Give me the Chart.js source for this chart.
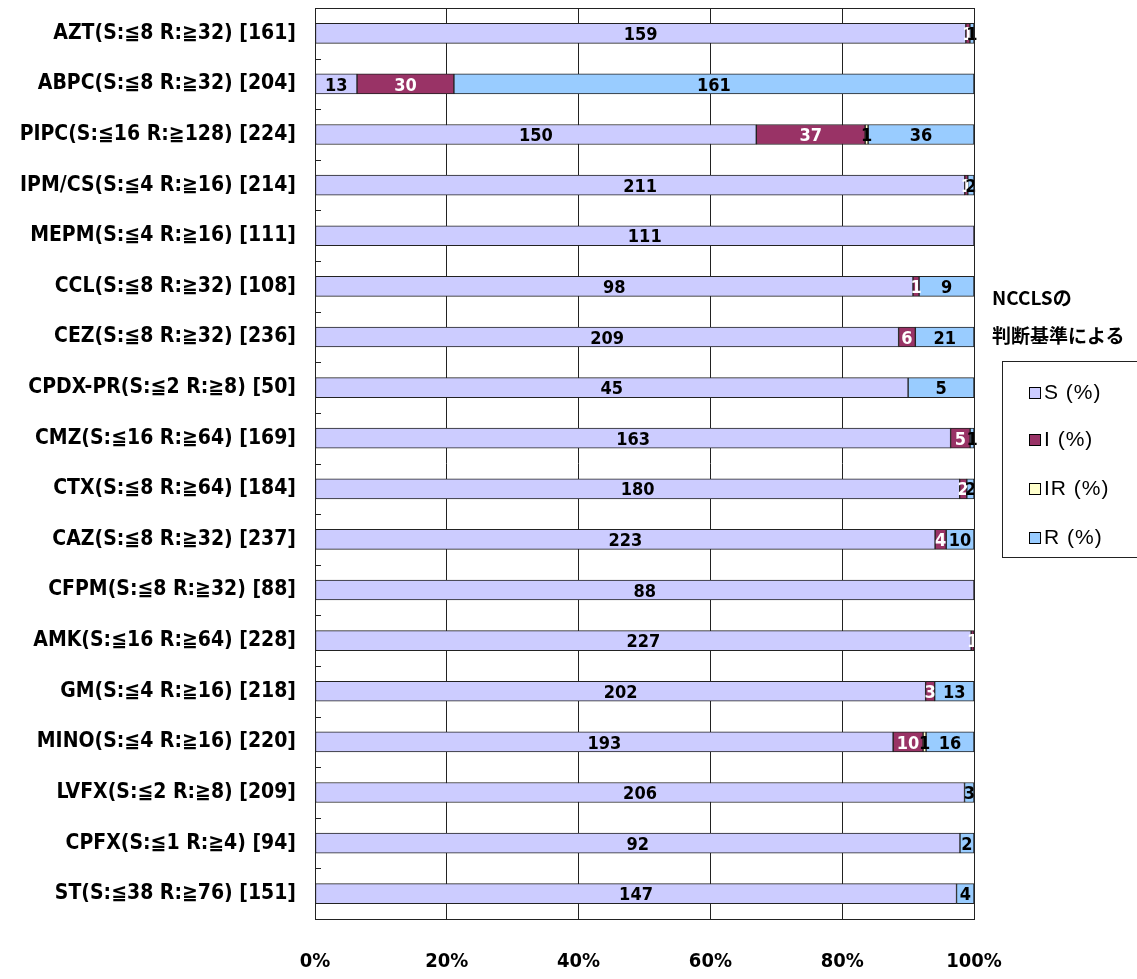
<!DOCTYPE html>
<html>
<head>
<meta charset="utf-8">
<script src="https://cdn.jsdelivr.net/npm/chart.js@4"></script>
<style>
  html, body { margin: 0; padding: 0; background: #fff; overflow: hidden; }
  #wrap { position: relative; width: 1137px; height: 979px; }
  #title { position: absolute; left: 992px; top: 278px; font: bold 19px 'Noto Sans CJK JP', sans-serif; line-height: 38px; color: #000; }
  #legend { position: absolute; left: 1002px; top: 361px; width: 160px; height: 197px; border: 1px solid #222; box-sizing: border-box; font: 21px 'Liberation Sans', Arial, sans-serif; letter-spacing: 1px; color: #000; }
  #legend .item { position: absolute; left: 26px; height: 24px; line-height: 24px; white-space: nowrap; }
  #legend .box { display: inline-block; width: 10px; height: 10px; border: 1px solid #000; margin-right: 3px; vertical-align: 0px; }
</style>
</head>
<body>
<div id="wrap">
  <canvas id="chart" width="1137" height="979"></canvas>
  <div id="title">NCCLSの<br>判断基準による</div>
  <div id="legend"></div>
</div>
<script>
const categories = [
  'AZT(S:≦8 R:≧32) [161]',
  'ABPC(S:≦8 R:≧32) [204]',
  'PIPC(S:≦16 R:≧128) [224]',
  'IPM/CS(S:≦4 R:≧16) [214]',
  'MEPM(S:≦4 R:≧16) [111]',
  'CCL(S:≦8 R:≧32) [108]',
  'CEZ(S:≦8 R:≧32) [236]',
  'CPDX-PR(S:≦2 R:≧8) [50]',
  'CMZ(S:≦16 R:≧64) [169]',
  'CTX(S:≦8 R:≧64) [184]',
  'CAZ(S:≦8 R:≧32) [237]',
  'CFPM(S:≦8 R:≧32) [88]',
  'AMK(S:≦16 R:≧64) [228]',
  'GM(S:≦4 R:≧16) [218]',
  'MINO(S:≦4 R:≧16) [220]',
  'LVFX(S:≦2 R:≧8) [209]',
  'CPFX(S:≦1 R:≧4) [94]',
  'ST(S:≦38 R:≧76) [151]'
];
const totals   = [161, 204, 224, 214, 111, 108, 236, 50, 169, 184, 237, 88, 228, 218, 220, 209, 94, 151];
const sCounts  = [159, 13, 150, 211, 111, 98, 209, 45, 163, 180, 223, 88, 227, 202, 193, 206, 92, 147];
const iCounts  = [1, 30, 37, 1, 0, 1, 6, 0, 5, 2, 4, 0, 1, 3, 10, 0, 0, 0];
const irCounts = [0, 0, 1, 0, 0, 0, 0, 0, 0, 0, 0, 0, 0, 0, 1, 0, 0, 0];
const rCounts  = [1, 161, 36, 2, 0, 9, 21, 5, 1, 2, 10, 0, 0, 13, 16, 3, 2, 4];
const xTicks   = [0, 20, 40, 60, 80, 100];

const seriesNames  = ['S (%)', 'I (%)', 'IR (%)', 'R (%)'];
const seriesColors = ['#CCCCFF', '#993366', '#FFFFCC', '#99CCFF'];
const labelColors  = ['#000', '#fff', '#000', '#000'];
const seriesCounts = [sCounts, iCounts, irCounts, rCounts];

const numFont = "'DejaVu Sans Condensed', 'Liberation Sans Narrow', 'DejaVu Sans', sans-serif";

// 100% stacked: counts -> share of the row total
const toPct = arr => arr.map((v, i) => v ? v / totals[i] * 100 : null);

const datasets = seriesNames.map((name, k) => ({
  label: name,
  data: toPct(seriesCounts[k]),
  counts: seriesCounts[k],
  labelColor: labelColors[k],
  backgroundColor: seriesColors[k],
  borderColor: '#222',
  borderWidth: 1,
  borderSkipped: false,
  barThickness: 20
}));

// count labels in the middle of each segment
const countLabels = {
  id: 'countLabels',
  afterDatasetsDraw(chart) {
    const ctx = chart.ctx;
    ctx.save();
    ctx.font = 'bold 18px ' + numFont;
    ctx.textAlign = 'center';
    ctx.textBaseline = 'middle';
    chart.data.datasets.forEach((ds, di) => {
      chart.getDatasetMeta(di).data.forEach((bar, i) => {
        const n = ds.counts[i];
        if (!n) return;
        const p = bar.getProps(['x', 'base', 'y'], true);
        ctx.fillStyle = ds.labelColor;
        ctx.fillText(String(n), (p.x + p.base) / 2, p.y + 2);
      });
    });
    ctx.restore();
  }
};

// plot frame and small inner ticks between categories
const plotFrame = {
  id: 'plotFrame',
  afterDraw(chart) {
    const {ctx, chartArea: a} = chart;
    ctx.save();
    ctx.strokeStyle = '#222';
    ctx.lineWidth = 1;
    ctx.strokeRect(Math.round(a.left) + 0.5, Math.round(a.top) + 0.5,
      Math.round(a.right - a.left), Math.round(a.bottom - a.top));
    const step = (a.bottom - a.top) / categories.length;
    ctx.beginPath();
    for (let k = 1; k < categories.length; k++) {
      const y = Math.round(a.top + k * step) + 0.5;
      ctx.moveTo(a.left, y);
      ctx.lineTo(a.left + 6, y);
    }
    ctx.stroke();
    ctx.restore();
  }
};

new Chart(document.getElementById('chart').getContext('2d'), {
  type: 'bar',
  data: { labels: categories, datasets: datasets },
  options: {
    indexAxis: 'y',
    responsive: false,
    animation: false,
    layout: { padding: { top: 8, right: 163, bottom: 0, left: 0 } },
    plugins: {
      legend: { display: false },
      tooltip: { enabled: false }
    },
    scales: {
      x: {
        stacked: true,
        min: 0,
        max: 100,
        afterBuildTicks: scale => { scale.ticks = xTicks.map(v => ({ value: v })); },
        afterFit: scale => { scale.height = 60; },
        grid: { color: '#222', lineWidth: 1, drawTicks: false },
        border: { display: false },
        ticks: {
          padding: 31,
          color: '#000',
          font: { family: numFont, size: 20, weight: 'bold' },
          callback: v => v + '%'
        }
      },
      y: {
        stacked: true,
        afterFit: scale => {
          scale.width = 315;
          scale.paddingTop = 0;
          scale.paddingBottom = 0;
        },
        grid: { display: false, drawTicks: false },
        border: { display: false },
        ticks: {
          padding: 19,
          autoSkip: false,
          color: '#000',
          font: { family: numFont, size: 21, weight: 'bold' }
        }
      }
    }
  },
  plugins: [countLabels, plotFrame]
});

// legend box on the right
const legendEl = document.getElementById('legend');
const legendTops = [18, 65, 114, 163];
seriesNames.forEach((name, k) => {
  const item = document.createElement('div');
  item.className = 'item';
  item.style.top = legendTops[k] + 'px';
  const box = document.createElement('span');
  box.className = 'box';
  box.style.background = seriesColors[k];
  item.appendChild(box);
  item.appendChild(document.createTextNode(name));
  legendEl.appendChild(item);
});
</script>
</body>
</html>
